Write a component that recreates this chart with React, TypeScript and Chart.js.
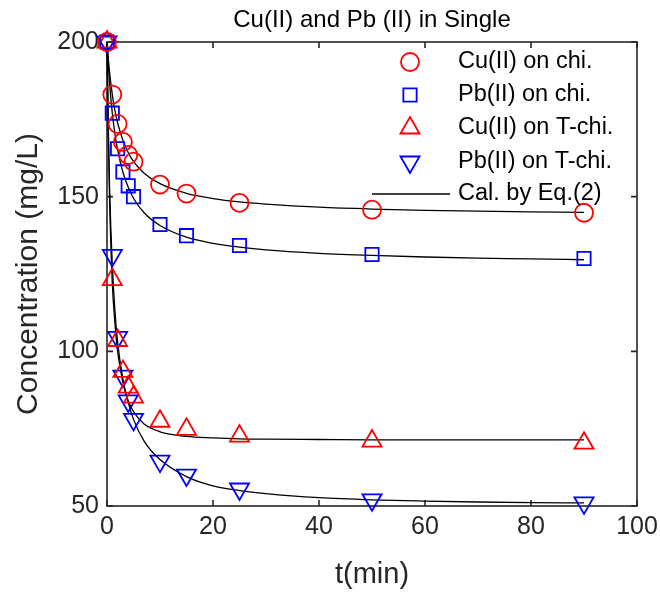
import React, { useEffect, useRef } from 'react';
import { Chart, registerables } from 'chart.js';

Chart.register(...registerables);

// ---- data ----
const chartTitle = 'Cu(II) and Pb (II) in Single';
const xTitle = 't(min)';
const yTitle = 'Concentration (mg/L)';

const tPoints = [0, 1, 2, 3, 4, 5, 10, 15, 25, 50, 90];
const cuChi = [200, 183, 173.5, 167.7, 163.5, 161.3, 153.9, 151, 148, 145.8, 144.8];
const pbChi = [200, 177, 165.5, 158, 153.5, 150, 141, 137.4, 134.2, 131.3, 130];
const cuTChi = [200, 123.2, 103.5, 93.5, 88.4, 85.2, 77.4, 74.8, 72.6, 71, 70.3];
const pbTChi = [200, 131, 104.5, 92, 84, 78, 64.5, 60, 55.5, 52, 51];

const tFit = [0, 0.25, 0.5, 1, 1.5, 2, 3, 4, 5, 7, 10, 15, 20, 25, 30, 40, 50, 60, 70, 80, 90];
const cuChiFit = [200, 194.5, 190, 183, 177.8, 173.9, 168.2, 164.3, 161.4, 157.6, 154.2, 151.1, 149.4, 148.3, 147.6, 146.6, 146, 145.6, 145.3, 145.1, 144.9];
const pbChiFit = [200, 192.4, 186.3, 177, 170.3, 165.2, 157.9, 153.1, 149.5, 144.8, 140.7, 136.9, 134.9, 133.7, 132.8, 131.7, 131, 130.5, 130.1, 129.9, 129.6];
const cuTChiFit = [200, 170, 148, 122, 109, 100, 90, 84, 80.5, 76.5, 74, 72.5, 72, 71.7, 71.6, 71.5, 71.4, 71.4, 71.4, 71.4, 71.4];
const pbTChiFit = [200, 172, 152, 128, 113, 103, 91, 83.5, 78, 71, 65, 59.5, 56.5, 55, 54, 52.7, 52, 51.6, 51.3, 51.1, 51];

const seriesLabels = ['Cu(II) on chi.', 'Pb(II) on chi.', 'Cu(II) on T-chi.', 'Pb(II) on T-chi.'];
const fitLabel = 'Cal. by Eq.(2)';

const xTicks = [0, 20, 40, 60, 80, 100];
const yTicks = [50, 100, 150, 200];

const FONT = '"Liberation Sans", Arial, Helvetica, sans-serif';
const AXIS_COLOR = '#262626';

const toXY = (xs: number[], ys: number[]) => xs.map((x, i) => ({ x, y: ys[i] }));

const markerStyles = [
  { style: 'circle', color: '#ff0000', radius: 9, rotation: 0 },
  { style: 'rect', color: '#0000ff', radius: 9.4, rotation: 0 },
  { style: 'triangle', color: '#ff0000', radius: 11, rotation: 0 },
  { style: 'triangle', color: '#0000ff', radius: 11, rotation: 180 },
];

function drawMarker(ctx: CanvasRenderingContext2D, style: string, x: number, y: number, r: number, rotation: number) {
  ctx.beginPath();
  if (style === 'circle') {
    ctx.arc(x, y, r, 0, Math.PI * 2);
  } else if (style === 'rect') {
    const s = Math.SQRT1_2 * r;
    ctx.rect(x - s, y - s, 2 * s, 2 * s);
  } else {
    let rad = (rotation * Math.PI) / 180;
    ctx.moveTo(x + Math.sin(rad) * r, y - Math.cos(rad) * r);
    rad += (2 * Math.PI) / 3;
    ctx.lineTo(x + Math.sin(rad) * r, y - Math.cos(rad) * r);
    rad += (2 * Math.PI) / 3;
    ctx.lineTo(x + Math.sin(rad) * r, y - Math.cos(rad) * r);
    ctx.closePath();
  }
  ctx.stroke();
}

const boxPlugin = {
  id: 'matlabBox',
  beforeDatasetsDraw(chart: any) {
    const { ctx, chartArea } = chart;
    const { left, right, top, bottom } = chartArea;
    const xs = chart.scales.x;
    const ys = chart.scales.y;
    ctx.save();
    ctx.strokeStyle = AXIS_COLOR;
    ctx.lineWidth = 1.6;
    ctx.strokeRect(left, top, right - left, bottom - top);
    const tl = 6;
    ctx.beginPath();
    xTicks.forEach((v) => {
      const px = xs.getPixelForValue(v);
      ctx.moveTo(px, bottom);
      ctx.lineTo(px, bottom - tl);
      ctx.moveTo(px, top);
      ctx.lineTo(px, top + tl);
    });
    yTicks.forEach((v) => {
      const py = ys.getPixelForValue(v);
      ctx.moveTo(left, py);
      ctx.lineTo(left + tl, py);
      ctx.moveTo(right, py);
      ctx.lineTo(right - tl, py);
    });
    ctx.stroke();
    ctx.restore();
  },
};

const titlePlugin = {
  id: 'matlabTitle',
  afterDraw(chart: any) {
    const { ctx, chartArea } = chart;
    ctx.save();
    ctx.font = `24px ${FONT}`;
    ctx.fillStyle = '#000';
    ctx.textAlign = 'center';
    ctx.textBaseline = 'middle';
    ctx.fillText(chartTitle, (chartArea.left + chartArea.right) / 2, chartArea.top - 22);
    ctx.restore();
  },
};

const legendPlugin = {
  id: 'matlabLegend',
  afterDraw(chart: any) {
    const { ctx, chartArea } = chart;
    ctx.save();
    ctx.font = `23.5px ${FONT}`;
    ctx.textBaseline = 'middle';
    ctx.textAlign = 'left';
    const markerX = chartArea.right - 227;
    const textX = chartArea.right - 179;
    const rowY = [chartArea.top + 20, chartArea.top + 53, chartArea.top + 86, chartArea.top + 120, chartArea.top + 152];
    seriesLabels.forEach((label, i) => {
      const m = markerStyles[i];
      ctx.strokeStyle = m.color;
      ctx.lineWidth = 1.8;
      drawMarker(ctx, m.style, markerX, rowY[i], m.radius, m.rotation);
      ctx.fillStyle = '#000';
      ctx.fillText(label, textX, rowY[i]);
    });
    ctx.strokeStyle = '#000';
    ctx.lineWidth = 1.3;
    ctx.beginPath();
    ctx.moveTo(chartArea.right - 265, rowY[4]);
    ctx.lineTo(chartArea.right - 187, rowY[4]);
    ctx.stroke();
    ctx.fillStyle = '#000';
    ctx.fillText(fitLabel, textX, rowY[4]);
    ctx.restore();
  },
};

export default function App() {
  const canvasRef = useRef<HTMLCanvasElement | null>(null);

  useEffect(() => {
    document.body.style.margin = '0';
    const canvas = canvasRef.current;
    if (!canvas) return;

    const seriesData = [cuChi, pbChi, cuTChi, pbTChi];
    const fitData = [cuChiFit, pbChiFit, cuTChiFit, pbTChiFit];

    const markerSets = seriesData.map((ys, i) => ({
      label: seriesLabels[i],
      data: toXY(tPoints, ys),
      showLine: false,
      pointStyle: markerStyles[i].style,
      pointRotation: markerStyles[i].rotation,
      pointRadius: markerStyles[i].radius,
      pointBorderColor: markerStyles[i].color,
      pointBackgroundColor: 'rgba(0,0,0,0)',
      pointBorderWidth: 1.8,
      borderColor: markerStyles[i].color,
      backgroundColor: 'rgba(0,0,0,0)',
      clip: false,
    }));

    const fitSets = fitData.map((ys, i) => ({
      label: fitLabel + ' ' + i,
      data: toXY(tFit, ys),
      showLine: true,
      borderColor: '#000000',
      borderWidth: 1.3,
      pointRadius: 0,
      cubicInterpolationMode: 'monotone',
      fill: false,
      clip: false,
    }));

    const chart = new Chart(canvas, {
      type: 'scatter',
      data: { datasets: [...markerSets, ...fitSets] as any },
      options: {
        responsive: false,
        animation: false,
        devicePixelRatio: 1,
        layout: { padding: { left: 0, right: 23, top: 42, bottom: 0 } },
        plugins: {
          legend: { display: false },
          tooltip: { enabled: false },
          title: { display: false },
        },
        scales: {
          x: {
            type: 'linear',
            min: 0,
            max: 100,
            afterFit: (s: any) => {
              s.height = 86;
              s.paddingLeft = 0;
              s.paddingRight = 0;
            },
            afterBuildTicks: (s: any) => { s.ticks = xTicks.map((v) => ({ value: v })); },
            grid: { display: false, drawTicks: false },
            border: { display: false },
            ticks: { color: AXIS_COLOR, font: { family: FONT, size: 25 }, padding: 6, maxRotation: 0 },
            title: { display: true, text: xTitle, color: AXIS_COLOR, font: { family: FONT, size: 29 }, padding: { top: 0, bottom: 0 } },
          },
          y: {
            type: 'linear',
            min: 50,
            max: 200,
            afterFit: (s: any) => {
              s.width = 107;
              s.paddingTop = 0;
              s.paddingBottom = 0;
            },
            afterBuildTicks: (s: any) => { s.ticks = yTicks.map((v) => ({ value: v })); },
            grid: { display: false, drawTicks: false },
            border: { display: false },
            ticks: { color: AXIS_COLOR, font: { family: FONT, size: 25 }, padding: 8 },
            title: { display: true, text: yTitle, color: AXIS_COLOR, font: { family: FONT, size: 30 }, padding: { top: 11, bottom: 0 } },
          },
        },
      } as any,
      plugins: [boxPlugin, titlePlugin, legendPlugin],
    });

    return () => chart.destroy();
  }, []);

  return (
    <div style={{ width: 660, height: 592 }}>
      <canvas ref={canvasRef} width={660} height={592} />
    </div>
  );
}
